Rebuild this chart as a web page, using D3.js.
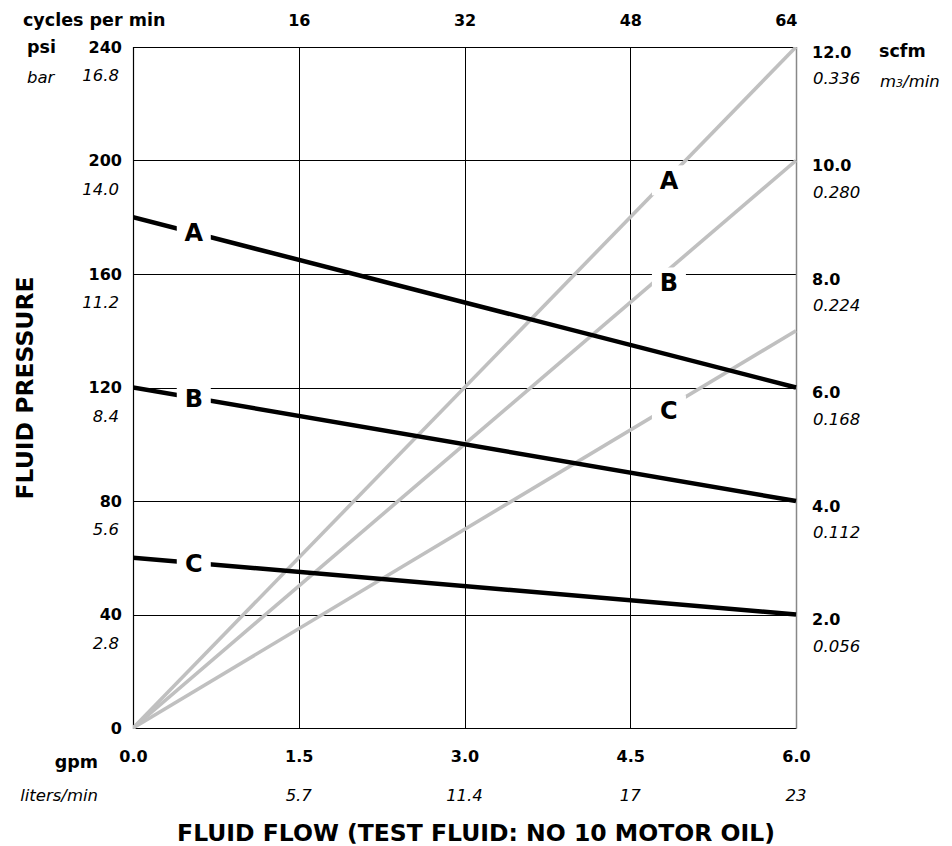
<!DOCTYPE html>
<html>
<head>
<meta charset="utf-8">
<script src="https://cdn.jsdelivr.net/npm/d3@7"></script>
<style>
  body { margin: 0; background: #fff; }
  svg { display: block; }
  text { font-family: "DejaVu Sans", sans-serif; fill: #000; }
</style>
</head>
<body>
<div id="chart"></div>
<script>
// Data
const gpmTicks = [0, 1.5, 3.0, 4.5, 6.0];
const litersTicks = ["", "5.7", "11.4", "17", "23"];
const cycleTicks = [16, 32, 48, 64];
const psiTicks = [0, 40, 80, 120, 160, 200, 240];
const barTicks = ["", "2.8", "5.6", "8.4", "11.2", "14.0", "16.8"];
const scfmTicks = [2, 4, 6, 8, 10, 12];
const m3Ticks = ["0.056", "0.112", "0.168", "0.224", "0.280", "0.336"];

const seriesNames = ["A", "B", "C"];
// fluid pressure (psi) at 0 gpm and at 6 gpm
const pressureStart = [180, 120, 60];
const pressureEnd = [120, 80, 40];
// air consumption (scfm) at 6 gpm, starting from 0
const airEnd = [12.0, 10.0, 7.0];
// where the curve letters sit
const pressureLabelGpm = [0.55, 0.55, 0.55];
const airLabelGpm = [4.85, 4.85, 4.85];
const airLabelScfm = [9.65, 7.85, 5.6];

(function () {
    const W = 952, H = 846;
    const margin = { top: 47, right: 156, bottom: 118, left: 133 };
    const width = W - margin.left - margin.right;
    const height = H - margin.top - margin.bottom;

    const svg = d3.select("#chart").append("svg")
        .attr("width", W)
        .attr("height", H);

    const g = svg.append("g")
        .attr("transform", `translate(${margin.left},${margin.top})`);

    // Scales
    const x = d3.scaleLinear().domain([0, 6]).range([0, width]);
    const xCycles = d3.scaleLinear().domain([0, 64]).range([0, width]);
    const y = d3.scaleLinear().domain([0, 240]).range([height, 0]);
    const yAir = d3.scaleLinear().domain([0, 12]).range([height, 0]);
    const crisp = v => Math.round(v) + 0.5;

    // Grid
    g.selectAll(".grid-x")
        .data(gpmTicks.slice(1, -1))
        .enter().append("line")
        .attr("class", "grid-x")
        .attr("x1", d => crisp(x(d))).attr("x2", d => crisp(x(d)))
        .attr("y1", 0).attr("y2", height)
        .attr("stroke", "#000").attr("stroke-width", 1);
    g.selectAll(".grid-y")
        .data(psiTicks.slice(1, -1))
        .enter().append("line")
        .attr("class", "grid-y")
        .attr("x1", 0).attr("x2", width)
        .attr("y1", d => crisp(y(d))).attr("y2", d => crisp(y(d)))
        .attr("stroke", "#000").attr("stroke-width", 1);

    // Frame
    g.append("path")
        .attr("d", `M${width + 0.5},0.5H0.5V${height + 0.5}H${width + 0.5}`)
        .attr("fill", "none")
        .attr("stroke", "#000")
        .attr("stroke-width", 1.2);
    g.append("line")
        .attr("x1", width + 0.5).attr("x2", width + 0.5)
        .attr("y1", 0).attr("y2", height + 0.5)
        .attr("stroke", "#888")
        .attr("stroke-width", 1.5);

    // Clip for the curves
    svg.append("clipPath").attr("id", "plot-clip")
        .append("rect").attr("width", width + 1).attr("height", height + 1);

    const plot = g.append("g").attr("clip-path", "url(#plot-clip)");

    // Air consumption lines (grey)
    const airLine = d3.line().x(d => x(d[0])).y(d => yAir(d[1]));
    plot.selectAll(".air")
        .data(seriesNames.map((n, i) => [[0, 0], [6, airEnd[i]]]))
        .enter().append("path")
        .attr("class", "air")
        .attr("d", airLine)
        .attr("fill", "none")
        .attr("stroke", "#c0c0c0")
        .attr("stroke-width", 3.6);

    // Fluid pressure lines (black)
    const pLine = d3.line().x(d => x(d[0])).y(d => y(d[1]));
    plot.selectAll(".pressure")
        .data(seriesNames.map((n, i) => [[0, pressureStart[i]], [6, pressureEnd[i]]]))
        .enter().append("path")
        .attr("class", "pressure")
        .attr("d", pLine)
        .attr("fill", "none")
        .attr("stroke", "#000")
        .attr("stroke-width", 4.5);

    // Curve letters with white boxes
    const labels = seriesNames.map((n, i) => {
        const t = pressureLabelGpm[i] / 6;
        return { name: n, px: x(pressureLabelGpm[i]), py: y(pressureStart[i] + (pressureEnd[i] - pressureStart[i]) * t) };
    }).concat(seriesNames.map((n, i) => ({ name: n, px: x(airLabelGpm[i]), py: yAir(airLabelScfm[i]) })));

    const lab = g.selectAll(".curve-label")
        .data(labels)
        .enter().append("g")
        .attr("class", "curve-label")
        .attr("transform", d => `translate(${d.px},${d.py})`);
    lab.append("rect")
        .attr("x", -17).attr("y", -15)
        .attr("width", 34).attr("height", 30)
        .attr("fill", "#fff");
    lab.append("text")
        .attr("text-anchor", "middle")
        .attr("dy", "0.36em")
        .style("font-size", "24px")
        .style("font-weight", "bold")
        .text(d => d.name);

    // Axes
    const styleAxis = (s, size, weight) => {
        s.select(".domain").remove();
        s.attr("font-family", null).attr("font-size", null);
        s.selectAll("text").style("font-size", size + "px").style("font-weight", weight);
    };

    // top: cycles per min
    g.append("g")
        .call(d3.axisTop(xCycles).tickValues(cycleTicks).tickSize(0).tickPadding(21))
        .call(s => styleAxis(s, 16, "bold"))
        .call(s => s.selectAll("text").filter(d => d === 64).attr("text-anchor", "end").attr("x", 1));

    svg.append("text")
        .attr("x", 23).attr("y", 26)
        .style("font-size", "17.5px").style("font-weight", "bold")
        .text("cycles per min");

    // left: psi
    g.append("g")
        .call(d3.axisLeft(y).tickValues(psiTicks).tickSize(0).tickPadding(11))
        .call(s => styleAxis(s, 16, "bold"));

    g.selectAll(".bar-label")
        .data(psiTicks)
        .enter().append("text")
        .attr("class", "bar-label")
        .attr("x", -14)
        .attr("y", d => y(d) + 34)
        .attr("text-anchor", "end")
        .style("font-size", "16.5px").style("font-style", "italic")
        .text((d, i) => barTicks[i]);

    svg.append("text")
        .attr("x", 27).attr("y", 53)
        .style("font-size", "17.5px").style("font-weight", "bold")
        .text("psi");
    svg.append("text")
        .attr("x", 27).attr("y", 83)
        .style("font-size", "16.5px").style("font-style", "italic")
        .text("bar");

    // right: scfm
    g.append("g")
        .attr("transform", `translate(${width},0)`)
        .call(d3.axisRight(yAir).tickValues(scfmTicks).tickSize(0).tickPadding(16).tickFormat(d3.format(".1f")))
        .call(s => styleAxis(s, 16, "bold"))
        .call(s => s.selectAll("text").attr("dy", "0.65em"));

    g.selectAll(".m3-label")
        .data(scfmTicks)
        .enter().append("text")
        .attr("class", "m3-label")
        .attr("x", width + 17)
        .attr("y", d => yAir(d) + 37)
        .style("font-size", "16.5px").style("font-style", "italic")
        .text((d, i) => m3Ticks[i]);

    svg.append("text")
        .attr("x", 879).attr("y", 57)
        .style("font-size", "17.5px").style("font-weight", "bold")
        .text("scfm");
    const m3 = svg.append("text")
        .attr("x", 880).attr("y", 87)
        .style("font-size", "16.5px").style("font-style", "italic");
    m3.append("tspan").text("m");
    m3.append("tspan").style("font-size", "11px").text("3");
    m3.append("tspan").text("/min");

    // bottom: gpm
    g.append("g")
        .attr("transform", `translate(0,${height})`)
        .call(d3.axisBottom(x).tickValues(gpmTicks).tickSize(0).tickPadding(23).tickFormat(d3.format(".1f")))
        .call(s => styleAxis(s, 16, "bold"));

    g.selectAll(".lpm-label")
        .data(gpmTicks)
        .enter().append("text")
        .attr("class", "lpm-label")
        .attr("x", d => x(d))
        .attr("y", height + 73)
        .attr("text-anchor", "middle")
        .style("font-size", "16.5px").style("font-style", "italic")
        .text((d, i) => litersTicks[i]);

    svg.append("text")
        .attr("x", 98).attr("y", 768)
        .attr("text-anchor", "end")
        .style("font-size", "17.5px").style("font-weight", "bold")
        .text("gpm");
    svg.append("text")
        .attr("x", 98).attr("y", 801)
        .attr("text-anchor", "end")
        .style("font-size", "16.5px").style("font-style", "italic")
        .text("liters/min");

    // Axis titles
    svg.append("text")
        .attr("x", 476).attr("y", 841)
        .attr("text-anchor", "middle")
        .style("font-size", "23.5px").style("font-weight", "bold")
        .text("FLUID FLOW (TEST FLUID: NO 10 MOTOR OIL)");

    svg.append("text")
        .attr("transform", "translate(33,388) rotate(-90)")
        .attr("text-anchor", "middle")
        .style("font-size", "23.5px").style("font-weight", "bold")
        .text("FLUID PRESSURE");
})();
</script>
</body>
</html>
